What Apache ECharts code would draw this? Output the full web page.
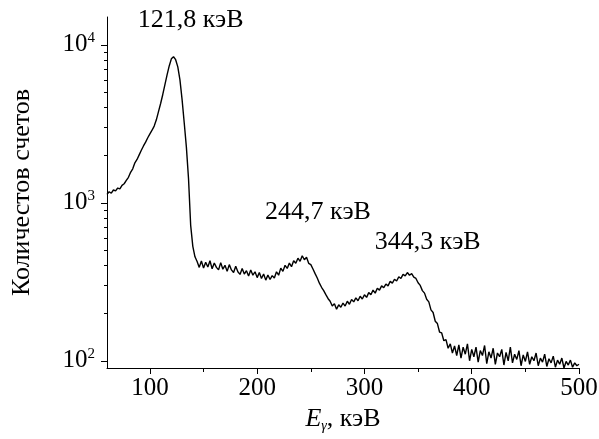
<!DOCTYPE html>
<html>
<head>
<meta charset="utf-8">
<script src="https://cdn.jsdelivr.net/npm/echarts@6/dist/echarts.min.js"></script>
<style>
  html, body { margin: 0; padding: 0; background: #fff; }
  #chart { width: 599px; height: 439px; }
</style>
</head>
<body>
<div id="chart"></div>
<script>
// Gamma spectrum: counts per channel, channels every 2 keV starting at 60 keV
const energyStart = 60;
const energyStep = 2;
const counts = [
  1130, 1175, 1150, 1205, 1190, 1240, 1225, 1290, 1320, 1385,   // 60-78
  1450, 1560, 1640, 1790, 1880, 2010, 2150, 2290, 2420, 2580,   // 80-98
  2730, 2880, 3060, 3350, 3780, 4250, 4850, 5600, 6450, 7350,   // 100-118
  8150, 8400, 8050, 7250, 6000, 4500, 3200, 2250, 1420, 720,    // 120-138
  530, 455, 425, 390, 428, 386, 420, 392, 430, 382,             // 140-158
  416, 390, 376, 418, 380, 402, 368, 406, 376, 362,             // 160-178
  396, 366, 352, 384, 354, 372, 344, 376, 348, 366,             // 180-198
  336, 362, 332, 354, 324, 349, 327, 346, 334, 366,             // 200-218
  348, 386, 368, 402, 384, 415, 394, 430, 414, 446,             // 220-238
  426, 462, 436, 452, 414, 406, 381, 356, 334, 310,             // 240-258
  292, 278, 262, 248, 238, 222, 230, 212, 226, 218,             // 260-278
  232, 222, 238, 228, 244, 236, 250, 240, 256, 246,             // 280-298
  262, 252, 270, 262, 280, 268, 288, 280, 298, 290,             // 300-318
  306, 298, 318, 310, 328, 320, 340, 332, 352, 345,             // 320-338
  362, 348, 356, 338, 332, 312, 300, 278, 268, 245,             // 340-358
  236, 210, 202, 178, 172, 152, 150, 134, 136, 120,             // 360-378
  128, 112, 124, 108, 126, 104, 122, 110, 128, 100,             // 380-398
  118, 106, 122, 98, 116, 108, 125, 96, 114, 104,               // 400-418
  120, 95, 112, 106, 118, 94, 113, 100, 122, 97,                // 420-438
  110, 102, 116, 93, 109, 99, 114, 95, 106, 100,                // 440-458
  112, 93, 104, 98, 110, 92, 103, 97, 107, 91,                  // 460-478
  101, 95, 104, 90, 99, 94, 101, 91, 97, 93,                    // 480-498
  95                                                            // 500
];

// Axis ticks
const xMajorTicks = [100, 200, 300, 400, 500];
const xMinorTicks = [150, 250, 350, 450];
const yMajorTicks = [100, 1000, 10000];
const yMinorTicks = [200, 300, 400, 500, 600, 700, 800, 900,
                     2000, 3000, 4000, 5000, 6000, 7000, 8000, 9000];

// Peak annotations: text and anchor point (keV, counts)
const peakTexts = ['121,8 кэВ', '244,7 кэВ', '344,3 кэВ'];
const peakAnchorE = [138, 256.7, 359];
const peakAnchorN = [14400, 877, 566];

const spectrum = counts.map((n, i) => [energyStart + i * energyStep, n]);
const peakLabels = peakTexts.map((t, i) => ({ name: t, value: [peakAnchorE[i], peakAnchorN[i]] }));

const FONT = "'Liberation Serif', 'Times New Roman', serif";
const X_MIN = 60, X_MAX = 500, Y_MIN = 90, Y_MAX = 15000;

const chart = echarts.init(document.getElementById('chart'), null, { renderer: 'canvas' });
chart.setOption({
  animation: false,
  backgroundColor: '#fff',
  grid: { left: 107, right: 20, top: 17, bottom: 71, containLabel: false, outerBoundsMode: 'none' },
  xAxis: [
    {
      type: 'value', min: X_MIN, max: X_MAX,
      axisLine: { show: true, onZero: false, lineStyle: { color: '#000', width: 1 } },
      axisTick: { show: true, inside: false, length: 6, customValues: xMajorTicks, lineStyle: { color: '#000', width: 1 } },
      axisLabel: { show: true, customValues: xMajorTicks, margin: 8, color: '#000', fontFamily: FONT, fontSize: 25 },
      splitLine: { show: false },
      name: '{i|E}{sub|γ}{n|, кэВ}',
      nameLocation: 'middle', nameGap: 36,
      nameTextStyle: {
        rich: {
          i: { fontFamily: FONT, fontSize: 26, fontStyle: 'italic', color: '#000' },
          sub: { fontFamily: FONT, fontSize: 14, fontStyle: 'italic', color: '#000', padding: [14, 0, 0, 0] },
          n: { fontFamily: FONT, fontSize: 26, color: '#000' }
        }
      }
    },
    {
      type: 'value', min: X_MIN, max: X_MAX, position: 'bottom',
      axisLine: { show: false },
      axisTick: { show: true, inside: false, length: 4, customValues: xMinorTicks, lineStyle: { color: '#000', width: 1 } },
      axisLabel: { show: false },
      splitLine: { show: false }
    }
  ],
  yAxis: [
    {
      type: 'log', logBase: 10, min: Y_MIN, max: Y_MAX,
      axisLine: { show: true, onZero: false, lineStyle: { color: '#000', width: 1 } },
      axisTick: { show: true, inside: false, length: 6, customValues: yMajorTicks, lineStyle: { color: '#000', width: 1 } },
      axisLabel: {
        show: true, customValues: yMajorTicks, margin: 12,
        formatter: v => '{b|10}{s|' + Math.round(Math.log10(v)) + '}',
        rich: {
          b: { fontFamily: FONT, fontSize: 25, color: '#000' },
          s: { fontFamily: FONT, fontSize: 15, color: '#000', padding: [0, 0, 14, 0] }
        }
      },
      splitLine: { show: false },
      name: 'Количестов счетов',
      nameLocation: 'middle', nameRotate: 90, nameGap: 72,
      nameTextStyle: { fontFamily: FONT, fontSize: 26, color: '#000' }
    },
    {
      type: 'log', logBase: 10, min: Y_MIN, max: Y_MAX, position: 'left',
      axisLine: { show: false },
      axisTick: { show: true, inside: false, length: 3, customValues: yMinorTicks, lineStyle: { color: '#000', width: 1 } },
      axisLabel: { show: false },
      splitLine: { show: false }
    }
  ],
  series: [
    {
      name: 'spectrum', type: 'line', xAxisIndex: 0, yAxisIndex: 0,
      data: spectrum, showSymbol: false, symbol: 'none',
      lineStyle: { color: '#000', width: 1.4 },
      z: 3
    },
    {
      name: 'peaks', type: 'scatter', xAxisIndex: 0, yAxisIndex: 0,
      data: peakLabels, symbolSize: 0, silent: true,
      itemStyle: { opacity: 1, color: '#000' },
      label: {
        show: true, position: 'inside', formatter: p => p.name,
        fontFamily: FONT, fontSize: 26, color: '#000', opacity: 1
      },
      z: 4
    }
  ]
});
</script>
</body>
</html>
